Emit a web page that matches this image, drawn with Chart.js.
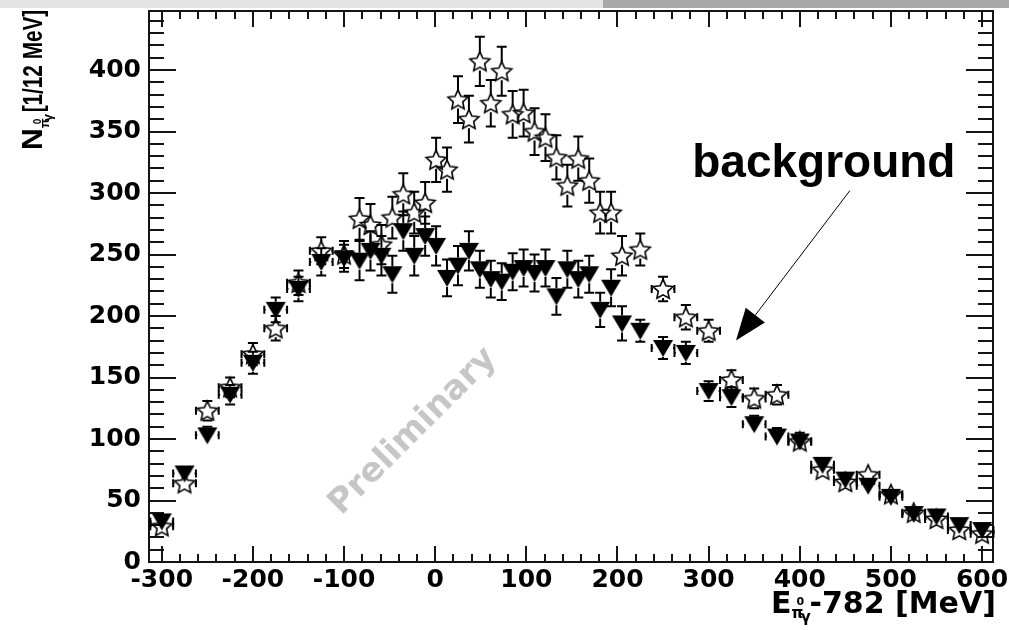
<!DOCTYPE html>
<html>
<head>
<meta charset="utf-8">
<script src="https://cdn.jsdelivr.net/npm/chart.js@4.4.1/dist/chart.umd.min.js"></script>
<style>
  html, body { margin: 0; padding: 0; background: #fff; }
  #strip { position: absolute; left: 0; top: 0; width: 1009px; height: 8px;
           background: linear-gradient(to right, #e4e4e4 0, #e4e4e4 603px, #a9a9a9 603px); }
  canvas { display: block; }
</style>
</head>
<body>
<div id="strip"></div>
<canvas id="spectrum" width="1009" height="630"></canvas>
<script>
// bin centres in MeV (E - 782), coarse 25 MeV bins outside, 12 MeV bins in the peak region
const binCenter = [
  -300, -275, -250, -225, -200, -175, -150, -125, -100,
  -83, -71, -59, -47, -35, -23, -11, 1, 13, 25, 37, 49, 61, 73, 85, 97,
  109, 121, 133, 145, 157, 169, 181, 193, 205,
  225, 250, 275, 300, 325, 350, 375, 400, 425, 450, 475, 500, 525, 550, 575, 600
];
const binHalfWidth = [
  12.5, 12.5, 12.5, 12.5, 12.5, 12.5, 12.5, 12.5, 10,
  6, 6, 6, 6, 6, 6, 6, 6, 6, 6, 6, 6, 6, 6, 6, 6,
  6, 6, 6, 6, 6, 6, 6, 6, 6,
  10, 12.5, 12.5, 12.5, 12.5, 12.5, 12.5, 12.5, 12.5, 12.5, 12.5, 12.5, 12.5, 12.5, 12.5, 12.5
];
// background (filled triangles)
const bgCounts = [
  33, 72, 103, 136, 162, 205, 222, 244, 247,
  245, 253, 249, 234, 269, 249, 265, 257, 231, 241, 253, 238, 230, 228, 236, 239,
  235, 239, 216, 238, 230, 234, 205, 223, 194,
  188, 174, 170, 139, 134, 112, 102, 98, 79, 67, 62, 53, 39, 37, 30, 26
];
const bgErrors = [
  4, 6, 7, 8, 9, 10, 10, 11, 11,
  16, 16, 16, 15, 16, 16, 16, 16, 15, 16, 16, 15, 15, 15, 15, 15,
  15, 15, 15, 15, 15, 15, 14, 15, 14,
  9, 9, 9, 8, 8, 7, 7, 7, 6, 6, 5, 5, 4, 4, 4, 4
];
// all pi0 gamma candidates (open stars)
const allCounts = [
  29, 64, 123, 142, 169, 190, 227, 253, 250,
  279, 274, 258, 280, 299, 284, 292, 327, 319, 376, 360, 407, 373, 399, 364, 365,
  350, 345, 329, 306, 328, 310, 284, 284, 249,
  254, 222, 199, 188, 148, 133, 136, 98, 75, 65, 71, 55, 40, 35, 26, 23
];
const allErrors = [
  4, 6, 8, 8, 9, 10, 10, 11, 11,
  17, 17, 16, 17, 17, 17, 17, 18, 18, 19, 19, 20, 19, 20, 19, 19,
  19, 19, 18, 17, 18, 18, 17, 17, 16,
  13, 10, 10, 9, 8, 8, 8, 7, 6, 6, 6, 5, 4, 4, 4, 3
];
const xTickValues = [-300, -200, -100, 0, 100, 200, 300, 400, 500, 600];
const yTickValues = [0, 50, 100, 150, 200, 250, 300, 350, 400];

const ROOT_FONT = '"DejaVu Sans"';
const HELV = '"Liberation Sans"';

// filled downward triangle
function triangleMarker() {
  const c = document.createElement("canvas");
  c.width = 22; c.height = 22;
  const g = c.getContext("2d");
  g.fillStyle = "#000";
  g.beginPath();
  g.moveTo(1, 3); g.lineTo(21, 3); g.lineTo(11, 20);
  g.closePath();
  g.fill();
  return c;
}

// open five-pointed star
function starMarker() {
  const c = document.createElement("canvas");
  c.width = 24; c.height = 24;
  const g = c.getContext("2d");
  g.strokeStyle = "#000";
  g.lineWidth = 1.6;
  g.beginPath();
  for (let i = 0; i < 10; i++) {
    const r = i % 2 === 0 ? 10.5 : 5;
    const a = -Math.PI / 2 + i * Math.PI / 5;
    const px = 12 + r * Math.cos(a), py = 12.8 + r * Math.sin(a);
    if (i === 0) g.moveTo(px, py); else g.lineTo(px, py);
  }
  g.closePath();
  g.stroke();
  return c;
}

// inward ticks on all four sides, like a ROOT frame
const frame = {
  id: "frame",
  beforeDatasetsDraw(chart) {
    const { ctx, chartArea: a, scales: { x, y } } = chart;
    ctx.save();
    ctx.strokeStyle = "#141414";
    ctx.lineWidth = 2;
    ctx.strokeRect(a.left, a.top, a.right - a.left, a.bottom - a.top);
    ctx.beginPath();
    for (let v = -300; v <= 600; v += 20) {
      const px = Math.round(x.getPixelForValue(v));
      const len = v % 100 === 0 ? 16 : 8;
      ctx.moveTo(px, a.bottom); ctx.lineTo(px, a.bottom - len);
      ctx.moveTo(px, a.top); ctx.lineTo(px, a.top + len);
    }
    for (let v = 0; v <= 440; v += 10) {
      const py = Math.round(y.getPixelForValue(v));
      const len = v % 50 === 0 ? 27 : 15;
      ctx.moveTo(a.left, py); ctx.lineTo(a.left + len, py);
      ctx.moveTo(a.right, py); ctx.lineTo(a.right - len, py);
    }
    ctx.stroke();

    // watermark
    const wx = x.getPixelForValue(-24), wy = y.getPixelForValue(106);
    ctx.translate(wx, wy);
    ctx.rotate(-Math.PI / 4);
    ctx.fillStyle = "#c6c6c6";
    ctx.font = "bold 34px " + ROOT_FONT;
    ctx.textAlign = "center";
    ctx.textBaseline = "middle";
    ctx.fillText("Preliminary", 0, 0);
    ctx.restore();
  }
};

// error bars, drawn under each dataset's markers with a gap for the marker
const errorBars = {
  id: "errorBars",
  beforeDatasetDraw(chart, args) {
    const ds = chart.data.datasets[args.index];
    const { ctx, scales: { x, y } } = chart;
    const gap = ds.markerGap;
    ctx.save();
    ctx.strokeStyle = "#000";
    ctx.lineWidth = 2;
    ctx.beginPath();
    args.meta.data.forEach((pt, i) => {
      const d = ds.data[i];
      const yHi = y.getPixelForValue(d.y + ds.errY[i]);
      const yLo = y.getPixelForValue(d.y - ds.errY[i]);
      const xL = x.getPixelForValue(d.x - ds.errX[i]);
      const xR = x.getPixelForValue(d.x + ds.errX[i]);
      if (pt.y - yHi > gap.up) {
        ctx.moveTo(pt.x, pt.y - gap.up); ctx.lineTo(pt.x, yHi);
        ctx.moveTo(pt.x - 5, yHi); ctx.lineTo(pt.x + 5, yHi);
      }
      if (yLo - pt.y > gap.down) {
        ctx.moveTo(pt.x, pt.y + gap.down); ctx.lineTo(pt.x, yLo);
        ctx.moveTo(pt.x - 5, yLo); ctx.lineTo(pt.x + 5, yLo);
      }
      if (pt.x - xL > gap.side) {
        ctx.moveTo(pt.x - gap.side, pt.y); ctx.lineTo(xL, pt.y);
        ctx.moveTo(xL, pt.y - 4); ctx.lineTo(xL, pt.y + 4);
        ctx.moveTo(pt.x + gap.side, pt.y); ctx.lineTo(xR, pt.y);
        ctx.moveTo(xR, pt.y - 4); ctx.lineTo(xR, pt.y + 4);
      }
    });
    ctx.stroke();
    ctx.restore();
  }
};

// draws text runs left to right; sx squeezes a run along the writing direction
function runs(ctx, parts, x, y) {
  for (const p of parts) {
    ctx.font = "bold " + p.size + "px " + (p.family || ROOT_FONT);
    const sx = p.sx || 1;
    ctx.save();
    ctx.translate(x + (p.dx || 0), y + (p.dy || 0));
    ctx.scale(sx, 1);
    ctx.fillText(p.text, 0, 0);
    ctx.restore();
    x += p.adv !== undefined ? p.adv : ctx.measureText(p.text).width * sx;
  }
}

const labels = {
  id: "labels",
  afterDraw(chart) {
    const { ctx, scales: { x, y } } = chart;
    ctx.save();
    ctx.fillStyle = "#000";
    ctx.textBaseline = "alphabetic";
    ctx.textAlign = "left";

    // x title
    runs(ctx, [
      { text: "E", size: 30 },
      { text: "π", size: 15, dy: 5, adv: 0 },
      { text: "0", size: 11, dx: 5, dy: -8, adv: 0 },
      { text: "γ", size: 15, dx: 9, dy: 9, adv: 18 },
      { text: "-782 [MeV]", size: 30 }
    ], 771, 613);

    // y title, reading upwards
    ctx.save();
    ctx.translate(42, 150);
    ctx.rotate(-Math.PI / 2);
    runs(ctx, [
      { text: "N", size: 30, family: HELV },
      { text: "π", size: 13, dy: 7, adv: 0, family: HELV },
      { text: "0", size: 10, dx: 4, dy: -1, adv: 0, family: HELV },
      { text: "γ", size: 13, dx: 7, dy: 10, adv: 16, family: HELV },
      { text: "[1/12 MeV]", size: 28, family: HELV, sx: 0.74 }
    ], 0, 0);
    ctx.restore();

    // annotation
    const sx = x.getPixelForValue(455), sy = y.getPixelForValue(302);
    const tx = x.getPixelForValue(330), ty = y.getPixelForValue(180);
    const ang = Math.atan2(ty - sy, tx - sx);
    const headLen = 32, headHalf = 12;
    const bx = tx - headLen * Math.cos(ang), by = ty - headLen * Math.sin(ang);
    ctx.strokeStyle = "#000";
    ctx.lineWidth = 1;
    ctx.beginPath();
    ctx.moveTo(sx, sy); ctx.lineTo(bx, by);
    ctx.stroke();
    ctx.beginPath();
    ctx.moveTo(tx, ty);
    ctx.lineTo(bx + headHalf * Math.sin(ang), by - headHalf * Math.cos(ang));
    ctx.lineTo(bx - headHalf * Math.sin(ang), by + headHalf * Math.cos(ang));
    ctx.closePath();
    ctx.fill();

    ctx.font = "bold 46px " + HELV;
    ctx.fillText("background", x.getPixelForValue(282), y.getPixelForValue(313));
    ctx.restore();
  }
};

const points = (xs, ys) => xs.map((v, i) => ({ x: v, y: ys[i] }));

new Chart(document.getElementById("spectrum"), {
  type: "scatter",
  data: {
    datasets: [
      {
        label: "background",
        data: points(binCenter, bgCounts),
        errY: bgErrors,
        errX: binHalfWidth,
        markerGap: { up: 8, down: 9, side: 10 },
        pointStyle: triangleMarker(),
        pointRadius: 10
      },
      {
        label: "all",
        data: points(binCenter, allCounts),
        errY: allErrors,
        errX: binHalfWidth,
        markerGap: { up: 9, down: 9, side: 10 },
        pointStyle: starMarker(),
        pointRadius: 10
      }
    ]
  },
  options: {
    responsive: false,
    animation: false,
    events: [],
    layout: { padding: { left: 0, right: 16, top: 10, bottom: 0 } },
    plugins: { legend: { display: false }, tooltip: { enabled: false } },
    scales: {
      x: {
        type: "linear",
        min: -314,
        max: 612,
        grid: { display: false, drawTicks: false },
        border: { display: false },
        afterBuildTicks: (s) => { s.ticks = xTickValues.map((v) => ({ value: v })); },
        afterFit: (s) => { s.height = 68; s.paddingLeft = 0; s.paddingRight = 0; },
        ticks: {
          color: "#000",
          padding: 3,
          maxRotation: 0,
          autoSkip: false,
          font: { family: "DejaVu Sans", weight: "bold", size: 25 }
        }
      },
      y: {
        type: "linear",
        min: 0,
        max: 448,
        grid: { display: false, drawTicks: false },
        border: { display: false },
        afterBuildTicks: (s) => { s.ticks = yTickValues.map((v) => ({ value: v })); },
        afterFit: (s) => { s.width = 149; s.paddingTop = 0; s.paddingBottom = 0; },
        ticks: {
          color: "#000",
          padding: 8,
          font: { family: "DejaVu Sans", weight: "bold", size: 25 }
        }
      }
    }
  },
  plugins: [frame, errorBars, labels]
});
</script>
</body>
</html>
